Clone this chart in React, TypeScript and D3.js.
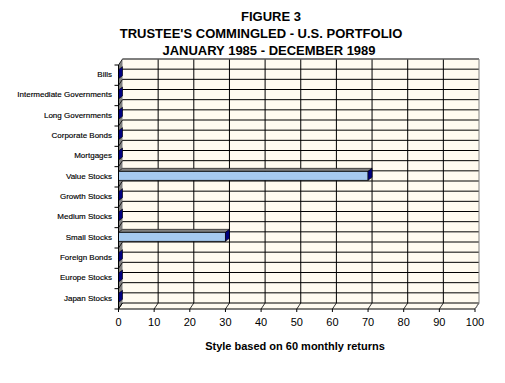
import React from "react";
import * as d3 from "d3";

const categories = [
  "Bills",
  "Intermediate Governments",
  "Long Governments",
  "Corporate Bonds",
  "Mortgages",
  "Value Stocks",
  "Growth Stocks",
  "Medium Stocks",
  "Small Stocks",
  "Foreign Bonds",
  "Europe Stocks",
  "Japan Stocks",
];
const values = [0, 0, 0, 0, 0, 70, 0, 0, 30, 0, 0, 0];
const xTicks = [0, 10, 20, 30, 40, 50, 60, 70, 80, 90, 100];
const titleLines = [
  "FIGURE 3",
  "TRUSTEE'S COMMINGLED - U.S. PORTFOLIO",
  "JANUARY 1985 - DECEMBER 1989",
];
const xAxisTitle = "Style based on 60 monthly returns";

const W = 505;
const H = 383;

export default function App() {
  const x = d3.scaleLinear().domain([0, 100]).range([118.5, 475]);
  const y = d3.scaleBand<string>().domain(categories).range([65, 309]);
  const band = y.bandwidth();
  const DX = 4;
  const DY = -6;
  const backTop = 65 + DY;
  const backBottom = 309 + DY;
  const x0 = x(0);
  const x100 = x(100);

  const hLines = d3.range(0, categories.length * 2 + 1).map((k) => backTop + (k * band) / 2);

  const bdx = 4;
  const bdy = -3;
  const bh = 9;

  const titleX = [271, 261, 269];
  const titleY = [20.5, 37.5, 55];

  return (
    <svg
      width={W}
      height={H}
      style={{ position: "absolute", left: 0, top: 0, background: "#fff" }}
      fontFamily="'Liberation Sans', Arial, sans-serif"
    >
      <rect x={0} y={0} width={W} height={H} fill="#fff" />
      {titleLines.map((t, i) => (
        <text key={i} x={titleX[i]} y={titleY[i]} textAnchor="middle" fontSize={13} fontWeight="bold" fill="#000">
          {t}
        </text>
      ))}

      {/* back wall */}
      <rect x={x0 + DX} y={backTop} width={x100 - x0} height={backBottom - backTop} fill="#FFFBF0" />
      {/* floor */}
      <polygon
        points={`${x0},309 ${x100},309 ${x100 + DX},${backBottom} ${x0 + DX},${backBottom}`}
        fill="#FFFBF0"
      />
      {/* left side wall */}
      <polygon
        points={`${x0},65 ${x0 + DX},${backTop} ${x0 + DX},${backBottom} ${x0},309`}
        fill="#808080"
      />
      {hLines.map((yy, k) => (
        <g key={k}>
          <line x1={x0 + DX} x2={x100 + DX} y1={yy} y2={yy} stroke="#000" strokeWidth={1} />
          <line x1={x0} y1={yy - DY} x2={x0 + DX} y2={yy} stroke="#000" strokeWidth={0.8} />
        </g>
      ))}
      {xTicks.map((t) => (
        <g key={t}>
          {t > 0 && t < 100 && (
            <line x1={x(t) + DX} x2={x(t) + DX} y1={backTop} y2={backBottom} stroke="#000" strokeWidth={1} />
          )}
          <line x1={x(t)} y1={309} x2={x(t) + DX} y2={backBottom} stroke="#000" strokeWidth={0.8} />
        </g>
      ))}
      <line x1={x100 + DX} x2={x100 + DX} y1={backTop} y2={backBottom} stroke="#808080" strokeWidth={1} />
      <line x1={x100} y1={309} x2={x100 + DX} y2={backBottom} stroke="#808080" strokeWidth={1} />
      <line x1={x0 + DX} x2={x100 + DX} y1={backTop} y2={backTop} stroke="#808080" strokeWidth={1} />

      {/* bars */}
      {categories.map((c, i) => {
        const v = values[i];
        const yt = (y(c) as number) + band / 2 - 5.5;
        const xs = x0;
        const xe = x(v);
        return (
          <g key={c}>
            {v > 0 && (
              <>
                <polygon
                  points={`${xs},${yt} ${xe},${yt} ${xe + bdx},${yt + bdy} ${xs + bdx},${yt + bdy}`}
                  fill="#808080"
                  stroke="#000"
                  strokeWidth={0.6}
                />
                <rect x={xs} y={yt} width={xe - xs} height={bh} fill="#A6CAF0" stroke="#000" strokeWidth={0.8} />
              </>
            )}
            <polygon
              points={`${xe},${yt} ${xe + bdx},${yt + bdy} ${xe + bdx},${yt + bh + bdy} ${xe},${yt + bh}`}
              fill="#000080"
              stroke="#000"
              strokeWidth={0.6}
            />
          </g>
        );
      })}

      {/* left axis */}
      <line x1={x0} x2={x0} y1={65} y2={309} stroke="#000" strokeWidth={1} />
      {d3.range(categories.length + 1).map((i) => {
        const yy = 65 + i * band;
        return <line key={i} x1={x0 - 4} x2={x0} y1={yy} y2={yy} stroke="#000" strokeWidth={1} />;
      })}
      {categories.map((c) => (
        <text
          key={c}
          x={112}
          y={(y(c) as number) + band / 2 - 1}
          dy="0.35em"
          textAnchor="end"
          fontSize={8}
          fill="#000"
          stroke="#000"
          strokeWidth={0.15}
        >
          {c}
        </text>
      ))}

      {/* bottom axis */}
      <line x1={x0} x2={x100} y1={309} y2={309} stroke="#000" strokeWidth={1} />
      {xTicks.map((t) => (
        <g key={t}>
          <line x1={x(t)} x2={x(t)} y1={309} y2={312} stroke="#000" strokeWidth={1} />
          <text x={x(t)} y={325.5} textAnchor="middle" fontSize={11} fill="#000">
            {t}
          </text>
        </g>
      ))}
      <text x={295} y={350} textAnchor="middle" fontSize={11} fontWeight="bold" fill="#000">
        {xAxisTitle}
      </text>
    </svg>
  );
}
